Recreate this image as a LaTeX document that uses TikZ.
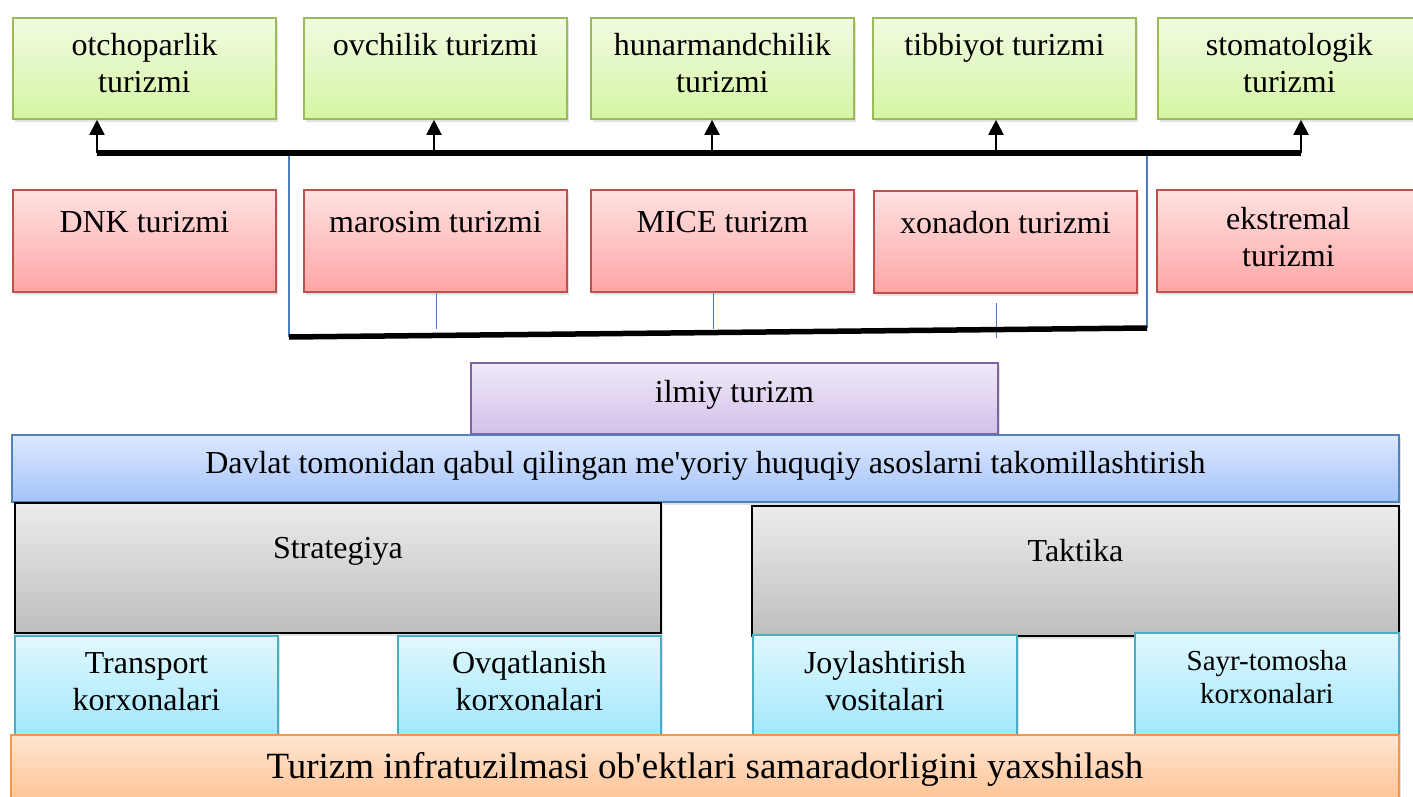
\documentclass[tikz,border=0pt]{standalone}
\usepackage{fontspec}
\setmainfont{Liberation Serif}[Ligatures=TeXOff]
\usetikzlibrary{arrows.meta,shadows}
\definecolor{gline}{HTML}{9BBB59}
\definecolor{gtop}{HTML}{F1FBE2}
\definecolor{gbot}{HTML}{D5F5A3}
\definecolor{rline}{HTML}{C0504D}
\definecolor{rtop}{HTML}{FFE1E1}
\definecolor{rbot}{HTML}{FFA6A6}
\definecolor{pline}{HTML}{8064A2}
\definecolor{ptop}{HTML}{EFE9F8}
\definecolor{pbot}{HTML}{D3C1EA}
\definecolor{lline}{HTML}{4F81BD}
\definecolor{ltop}{HTML}{DDE8FD}
\definecolor{lbot}{HTML}{A3C3FA}
\definecolor{stop}{HTML}{ECECEC}
\definecolor{sbot}{HTML}{BEBEBE}
\definecolor{kline}{HTML}{4BACC6}
\definecolor{ktop}{HTML}{E1F8FE}
\definecolor{kbot}{HTML}{A2E7FC}
\definecolor{oline}{HTML}{F79646}
\definecolor{otop}{HTML}{FFE5D3}
\definecolor{obot}{HTML}{FFBF8C}
\definecolor{linkblue}{HTML}{4A7EBB}
\begin{document}
\begin{tikzpicture}[
  x=1pt, y=-1pt,
  box/.style={draw, line width=1.8pt, anchor=north west, align=center,
    inner xsep=3pt, inner ysep=0pt, font=\fontsize{32}{37}\selectfont,
    drop shadow={shadow xshift=2pt, shadow yshift=-3pt, opacity=0.22}},
  gbox/.style={box, draw=gline, top color=gtop, bottom color=gbot,
    minimum width=263pt, text height=38pt, text depth=63pt},
  gbox2/.style={gbox, text height=75pt, text depth=26pt},
  rbox/.style={box, draw=rline, top color=rtop, bottom color=rbot,
    minimum width=263pt, text height=43pt, text depth=59pt},
  rbox2/.style={rbox, text height=77pt, text depth=25pt},
  pbox/.style={box, draw=pline, top color=ptop, bottom color=pbot,
    minimum width=527pt, text height=40pt, text depth=31pt},
  lbox/.style={box, draw=lline, top color=ltop, bottom color=lbot,
    minimum width=1387pt, text height=39pt, text depth=28pt},
  sbox/.style={box, draw=black, top color=stop, bottom color=sbot,
    minimum width=647pt, text height=56pt, text depth=74pt},
  kbox/.style={box, draw=kline, top color=ktop, bottom color=kbot,
    minimum width=263pt, text height=75pt, text depth=25pt},
  obox/.style={box, draw=oline, top color=otop, bottom color=obot,
    minimum width=1388pt, text height=44pt, text depth=30pt,
    font=\fontsize{37}{42}\selectfont},
  bar/.style={line width=5.5pt},
  up/.style={line width=2pt, -{Triangle[width=15pt,length=15pt]}},
  link/.style={draw=linkblue, line width=1.5pt}
]
\useasboundingbox (0,0) rectangle (1413,797);
\node[gbox2] (otch) at (12,17) {otchoparlik\\turizmi};
\node[gbox] (ovch) at (303,17) {ovchilik turizmi};
\node[gbox2] (hunar) at (590,17) {hunarmandchilik\\turizmi};
\node[gbox] (tibb) at (872,17) {tibbiyot turizmi};
\node[gbox2] (stom) at (1157,17) {stomatologik\\turizmi};
\node[rbox] (dnk) at (12,189) {DNK turizmi};
\node[rbox] (maros) at (303,189) {marosim turizmi};
\node[rbox] (mice) at (590,189) {MICE turizm};
\node[rbox] (xonad) at (873,190) {xonadon turizmi};
\node[rbox2] (ekstr) at (1156,189) {ekstremal\\turizmi};
\coordinate (a1) at (97,153);
\coordinate (a2) at (434,153);
\coordinate (a3) at (712,153);
\coordinate (a4) at (996,153);
\coordinate (a5) at (1301,153);
\coordinate (tl) at (289,153);
\coordinate (tr) at (1147,153);
\coordinate (bl) at (289,337);
\coordinate (br) at (1147,328);
\draw[link] (tl) -- (bl);
\draw[link] (tr) -- (br);
\draw[link] ([xshift=1pt]maros.south) -- ++(0,36);
\draw[link] ([xshift=-9pt]mice.south) -- ++(0,36);
\draw[link] ([xshift=-9pt,yshift=-9pt]xonad.south) -- ++(0,35);
\draw[bar] (bl) -- (br);
\draw[bar] (a1) -- (a5);
\foreach \a/\b in {a1/otch, a2/ovch, a3/hunar, a4/tibb, a5/stom}
  \draw[up] (\a) -- (\a |- \b.south);
\node[pbox] (ilmiy) at (470,362) {ilmiy turizm};
\node[lbox] (davlat) at (11,434) {Davlat tomonidan qabul qilingan me'yoriy huquqiy asoslarni takomillashtirish};
\node[sbox, minimum width=646pt] (strat) at (14,502) {Strategiya};
\node[sbox] (takt) at (751,505) {Taktika};
\node[kbox] (transp) at (14,635) {Transport\\korxonalari};
\node[kbox] (ovqat) at (397,635) {Ovqatlanish\\korxonalari};
\node[kbox, minimum width=264pt, text height=76pt] (joyl) at (752,634) {Joylashtirish\\vositalari};
\node[kbox, minimum width=264pt, text height=71pt, text depth=32pt,
  font=\fontsize{29}{33}\selectfont] (sayr) at (1134,632) {Sayr-tomosha\\korxonalari};
\node[obox] (infra) at (10,734) {Turizm infratuzilmasi ob'ektlari samaradorligini yaxshilash};
\end{tikzpicture}
\end{document}
